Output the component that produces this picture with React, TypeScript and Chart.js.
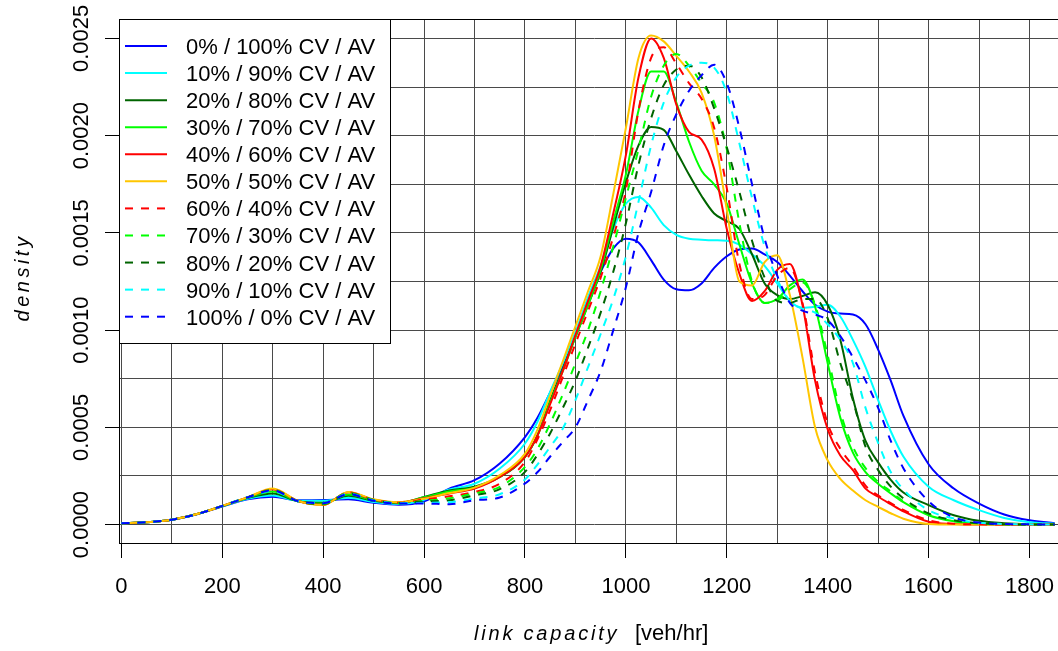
import React, { useEffect, useRef } from 'react';
import { Chart, registerables } from 'chart.js';

Chart.register(...registerables);

const FONT = '"Liberation Sans", Arial, Helvetica, sans-serif';
const DENSITY_UNIT = 1e-4; // series values below are density × 10⁻⁴

// link capacity [veh/hr]
const capacity = [
  0, 50, 100, 150, 200, 250, 300, 350, 400, 450, 500, 550, 600, 650, 700, 750,
  800, 825, 850, 875, 900, 925, 950, 975, 1000, 1025, 1050, 1075, 1100, 1125, 1150, 1175, 1200, 1225, 1250, 1275, 1300, 1325, 1350, 1375, 1400, 1425, 1450, 1475, 1500, 1525, 1550,
  1600, 1650, 1700, 1750, 1800, 1850,
];

const cv0_av100 = [
  0.07, 0.12, 0.25, 0.53, 0.93, 1.3, 1.43, 1.25, 1.26, 1.3, 1.12, 1.02, 1.2, 1.85, 2.28, 3.14,
  4.5, 5.5, 6.8, 8.2, 9.8, 11.5, 13.0, 14.2, 14.7, 14.5, 13.6, 12.6, 12.1, 12.05, 12.4, 13.2, 13.8, 14.15, 14.2, 13.9, 13.5, 12.8, 12.0, 11.3, 10.95, 10.85, 10.8, 10.3, 9.0, 7.4, 5.6,
  3.1, 1.85, 1.08, 0.52, 0.22, 0.07,
];
const cv10_av90 = [
  0.07, 0.12, 0.25, 0.54, 0.94, 1.33, 1.5, 1.22, 1.22, 1.38, 1.16, 1.06, 1.28, 1.8, 2.1, 2.88,
  4.17, 5.3, 6.83, 8.3, 9.9, 11.7, 13.3, 15.2, 16.5, 16.85, 16.3, 15.4, 14.9, 14.7, 14.65, 14.62, 14.6, 14.4, 13.9, 13.3, 12.4, 11.5, 11.15, 11.2, 11.3, 10.7, 9.5, 8.1, 6.4, 4.8, 3.5,
  1.95, 1.25, 0.74, 0.34, 0.12, 0.04,
];
const cv20_av80 = [
  0.07, 0.12, 0.25, 0.54, 0.95, 1.36, 1.6, 1.2, 1.12, 1.48, 1.22, 1.1, 1.42, 1.75, 1.95, 2.45,
  3.48, 4.6, 6.4, 8.0, 9.65, 11.3, 13.0, 15.3, 17.6, 19.5, 20.45, 20.3, 19.2, 18.0, 16.9, 16.0, 15.6, 15.2, 13.9, 12.4, 11.8, 11.6, 11.75, 11.95, 11.3, 9.5, 6.5, 4.3, 3.2, 2.3, 1.65,
  1.0, 0.48, 0.19, 0.07, 0.02, 0.01,
];
const cv30_av70 = [
  0.07, 0.12, 0.25, 0.54, 0.96, 1.38, 1.7, 1.2, 1.08, 1.55, 1.25, 1.12, 1.4, 1.7, 1.9, 2.45,
  3.48, 4.6, 6.3, 7.9, 9.65, 11.3, 13.1, 15.6, 18.0, 21.3, 23.3, 23.3, 21.7, 19.7, 18.2, 17.5, 16.5, 14.4, 12.4, 11.4, 11.6, 12.3, 12.6, 11.2, 8.3, 5.5, 3.7, 2.7, 2.1, 1.6, 1.15,
  0.48, 0.17, 0.05, 0.01, 0, 0,
];
const cv40_av60 = [
  0.07, 0.12, 0.25, 0.54, 0.96, 1.4, 1.82, 1.21, 1.02, 1.66, 1.28, 1.14, 1.35, 1.6, 1.85, 2.45,
  3.48, 4.6, 6.2, 7.9, 9.75, 11.5, 13.3, 16.0, 19.0, 23.0, 25.0, 24.0, 21.6, 20.2, 19.8, 18.3, 15.2, 12.9, 11.5, 12.0, 13.1, 13.4, 11.3, 7.4, 4.9, 3.55, 2.8, 1.85, 1.43, 1.05, 0.68,
  0.14, 0.03, 0, 0, 0, 0,
];
const cv50_av50 = [
  0.07, 0.12, 0.25, 0.54, 0.96, 1.4, 1.85, 1.22, 1.0, 1.68, 1.3, 1.15, 1.33, 1.62, 1.9, 2.54,
  3.65, 4.9, 6.65, 8.4, 10.2, 12.0, 13.8, 17.0, 20.4, 24.0, 25.15, 24.85, 24.1, 23.3, 22.2, 20.0, 16.2, 12.5, 12.3, 13.5, 13.85, 11.8, 8.6, 5.0, 3.3, 2.35, 1.75, 1.25, 0.91, 0.58, 0.3,
  0.03, 0, 0, 0, 0, 0,
];
const cv60_av40 = [
  0.07, 0.12, 0.25, 0.54, 0.96, 1.4, 1.8, 1.21, 1.03, 1.65, 1.27, 1.12, 1.28, 1.45, 1.68, 2.1,
  3.22, 4.4, 5.9, 7.6, 9.3, 11.0, 12.7, 14.8, 17.2, 21.3, 24.0, 24.55, 23.7, 22.7, 21.9, 20.4, 17.3, 13.4, 11.6, 11.8, 12.8, 13.2, 11.4, 7.8, 5.2, 3.9, 3.0, 2.0, 1.5, 1.1, 0.75,
  0.22, 0.04, 0.01, 0, 0, 0,
];
const cv70_av30 = [
  0.07, 0.12, 0.25, 0.54, 0.96, 1.4, 1.78, 1.2, 1.05, 1.62, 1.26, 1.1, 1.22, 1.35, 1.6, 1.94,
  2.97, 3.9, 5.2, 6.7, 8.3, 10.0, 12.0, 14.3, 16.8, 19.3, 22.0, 23.6, 24.2, 23.6, 22.7, 21.7, 19.3, 15.5, 12.5, 11.4, 11.5, 12.1, 12.45, 11.3, 8.7, 5.8, 4.0, 2.9, 2.2, 1.7, 1.2,
  0.55, 0.18, 0.05, 0.01, 0, 0,
];
const cv80_av20 = [
  0.07, 0.12, 0.25, 0.54, 0.96, 1.4, 1.75, 1.2, 1.07, 1.6, 1.25, 1.1, 1.18, 1.25, 1.5, 1.82,
  2.71, 3.6, 4.7, 6.0, 7.4, 9.1, 10.9, 13.0, 15.5, 18.5, 20.9, 22.6, 23.4, 23.6, 23.0, 21.4, 19.4, 17.1, 14.6, 12.7, 11.5, 11.4, 11.6, 11.6, 10.6, 8.3, 6.4, 4.0, 2.8, 1.95, 1.35,
  0.57, 0.22, 0.07, 0.02, 0, 0,
];
const cv90_av10 = [
  0.07, 0.12, 0.25, 0.54, 0.96, 1.4, 1.72, 1.2, 1.1, 1.58, 1.24, 1.1, 1.12, 1.15, 1.34, 1.56,
  2.32, 3.1, 4.0, 4.94, 6.4, 8.1, 9.8, 11.6, 13.8, 16.6, 19.5, 21.7, 23.0, 23.6, 23.75, 23.5, 22.2, 19.6, 16.8, 14.3, 12.6, 11.5, 11.1, 10.9, 10.3, 9.5, 8.3, 6.0, 4.2, 2.7, 1.8,
  0.74, 0.31, 0.09, 0.03, 0.01, 0,
];
const cv100_av0 = [
  0.07, 0.12, 0.25, 0.54, 0.96, 1.4, 1.76, 1.2, 1.1, 1.56, 1.22, 1.08, 1.08, 1.05, 1.25, 1.39,
  2.11, 2.7, 3.5, 4.25, 5.0, 6.4, 7.9, 10.0, 12.2, 15.0, 17.1, 19.5, 21.1, 22.3, 23.1, 23.65, 22.7, 20.4, 17.5, 14.7, 12.8, 11.4, 11.0, 10.8, 10.5, 9.7, 8.6, 7.4, 6.0, 4.3, 2.9,
  1.2, 0.37, 0.1, 0.03, 0.01, 0,
];

const seriesValues = [
  cv0_av100, cv10_av90, cv20_av80, cv30_av70, cv40_av60, cv50_av50,
  cv60_av40, cv70_av30, cv80_av20, cv90_av10, cv100_av0,
];
const seriesLabels = [
  '0% / 100% CV / AV', '10% / 90% CV / AV', '20% / 80% CV / AV', '30% / 70% CV / AV',
  '40% / 60% CV / AV', '50% / 50% CV / AV', '60% / 40% CV / AV', '70% / 30% CV / AV',
  '80% / 20% CV / AV', '90% / 10% CV / AV', '100% / 0% CV / AV',
];
const seriesColors = [
  '#0000FF', '#00FFFF', '#006400', '#00FF00', '#FF0000', '#FFC600',
  '#FF0000', '#00FF00', '#006400', '#00FFFF', '#0000FF',
];
const seriesDashed = [false, false, false, false, false, false, true, true, true, true, true];

const xGridValues = [0, 100, 200, 300, 400, 500, 600, 700, 800, 900, 1000, 1100, 1200, 1300, 1400, 1500, 1600, 1700, 1800];
const xTickLabels = [0, 200, 400, 600, 800, 1000, 1200, 1400, 1600, 1800];
const yGridValues = [0, 0.00025, 0.0005, 0.00075, 0.001, 0.00125, 0.0015, 0.00175, 0.002, 0.00225, 0.0025];
const yTickValues = [0, 0.0005, 0.001, 0.0015, 0.002, 0.0025];
const yTickLabels = ['0.0000', '0.0005', '0.0010', '0.0015', '0.0020', '0.0025'];

const DASH = [8, 8];
const GRID_COLOR = '#4a4a4a';

function spacedWidth(ctx: CanvasRenderingContext2D, text: string, spacing: number) {
  let w = 0;
  for (const ch of text) w += ctx.measureText(ch).width;
  return w + spacing * (text.length - 1);
}
function drawSpaced(ctx: CanvasRenderingContext2D, text: string, x: number, y: number, spacing: number) {
  let cx = x;
  for (const ch of text) {
    ctx.fillText(ch, cx, y);
    cx += ctx.measureText(ch).width + spacing;
  }
}

const rPlotPlugin = {
  id: 'rPlot',
  beforeDraw(chart: any) {
    const ctx = chart.ctx;
    ctx.save();
    ctx.fillStyle = '#ffffff';
    ctx.fillRect(0, 0, chart.width, chart.height);
    ctx.restore();
  },
  afterDraw(chart: any) {
    const { ctx, chartArea: a, scales } = chart;
    const xs = scales.x;
    const ys = scales.y;
    ctx.save();
    ctx.setLineDash([]);
    // plot box
    ctx.strokeStyle = '#000';
    ctx.lineWidth = 1;
    ctx.strokeRect(a.left + 0.5, a.top + 0.5, a.right - a.left - 1, a.bottom - a.top - 1);

    // x tick labels
    ctx.fillStyle = '#000';
    ctx.font = `22px ${FONT}`;
    ctx.textAlign = 'center';
    ctx.textBaseline = 'alphabetic';
    xTickLabels.forEach((v) => ctx.fillText(String(v), xs.getPixelForValue(v), 593));

    // y tick labels (rotated)
    yTickValues.forEach((v, i) => {
      const py = ys.getPixelForValue(v);
      ctx.save();
      ctx.translate(88, py);
      ctx.rotate(-Math.PI / 2);
      ctx.fillText(yTickLabels[i], 0, 0);
      ctx.restore();
    });

    // x title
    ctx.textAlign = 'left';
    ctx.font = `italic 20px ${FONT}`;
    drawSpaced(ctx, 'link capacity', 474, 640, 2.8);
    ctx.font = `22px ${FONT}`;
    ctx.fillText('[veh/hr]', 635, 640);

    // y title
    ctx.save();
    ctx.translate(28.5, 279.3);
    ctx.rotate(-Math.PI / 2);
    ctx.font = `italic 20px ${FONT}`;
    const w = spacedWidth(ctx, 'density', 3.5);
    drawSpaced(ctx, 'density', -w / 2, 0, 3.5);
    ctx.restore();

    // legend
    const lx = a.left, ly = a.top, lw = 271, lh = 325;
    ctx.fillStyle = '#fff';
    ctx.fillRect(lx, ly, lw + 1, lh);
    ctx.strokeStyle = '#000';
    ctx.lineWidth = 1;
    ctx.strokeRect(lx + 0.5, ly + 0.5, lw, lh - 1);
    ctx.font = `22px ${FONT}`;
    ctx.textAlign = 'left';
    seriesLabels.forEach((label, i) => {
      const cy = 46 + i * 27.07;
      ctx.save();
      ctx.strokeStyle = seriesColors[i];
      ctx.lineWidth = 2;
      ctx.setLineDash(seriesDashed[i] ? DASH : []);
      ctx.beginPath();
      ctx.moveTo(125, cy);
      ctx.lineTo(167, cy);
      ctx.stroke();
      ctx.restore();
      ctx.fillStyle = '#000';
      ctx.fillText(label, 186, cy + 8);
    });
    ctx.restore();
  },
};

export default function App() {
  const canvasRef = useRef<HTMLCanvasElement | null>(null);

  useEffect(() => {
    const canvas = canvasRef.current;
    if (!canvas) return;

    const datasets = seriesValues.map((vals, i) => ({
      label: seriesLabels[i],
      data: capacity.map((x, j) => ({ x, y: vals[j] * DENSITY_UNIT })),
      borderColor: seriesColors[i],
      backgroundColor: seriesColors[i],
      borderWidth: 2,
      borderDash: seriesDashed[i] ? DASH : [],
      pointRadius: 0,
      pointHoverRadius: 0,
      fill: false,
      cubicInterpolationMode: 'monotone' as const,
      order: seriesValues.length - 1 - i,
    }));

    const chart = new Chart(canvas, {
      type: 'line',
      data: { datasets },
      options: {
        responsive: false,
        animation: false,
        devicePixelRatio: 1,
        events: [],
        layout: { padding: { left: 0, top: 19, right: 0, bottom: 0 } },
        plugins: {
          legend: { display: false },
          tooltip: { enabled: false },
          title: { display: false },
        },
        scales: {
          x: {
            type: 'linear',
            min: -4.76,
            max: 1880.3,
            afterBuildTicks: (scale: any) => {
              scale.ticks = xGridValues.map((v) => ({ value: v }));
            },
            afterFit: (scale: any) => {
              scale.height = 107;
            },
            ticks: { display: false },
            border: { display: false },
            grid: {
              color: GRID_COLOR,
              lineWidth: 1,
              drawTicks: true,
              tickLength: 14,
              tickColor: (c: any) => (c.index % 2 === 0 ? '#000' : 'rgba(0,0,0,0)'),
            },
          },
          y: {
            type: 'linear',
            min: -0.0001,
            max: 0.0026,
            afterBuildTicks: (scale: any) => {
              scale.ticks = yGridValues.map((v) => ({ value: v }));
            },
            afterFit: (scale: any) => {
              scale.width = 119;
            },
            ticks: { display: false },
            border: { display: false },
            grid: {
              color: GRID_COLOR,
              lineWidth: 1,
              drawTicks: true,
              tickLength: 14,
              tickColor: (c: any) => (c.index % 2 === 0 ? '#000' : 'rgba(0,0,0,0)'),
            },
          },
        },
      },
      plugins: [rPlotPlugin],
    });

    return () => chart.destroy();
  }, []);

  return (
    <div
      style={{
        position: 'fixed',
        left: 0,
        top: 0,
        width: 1058,
        height: 651,
        overflow: 'hidden',
        background: '#fff',
      }}
    >
      <canvas ref={canvasRef} width={1070} height={651} style={{ display: 'block' }} />
    </div>
  );
}
